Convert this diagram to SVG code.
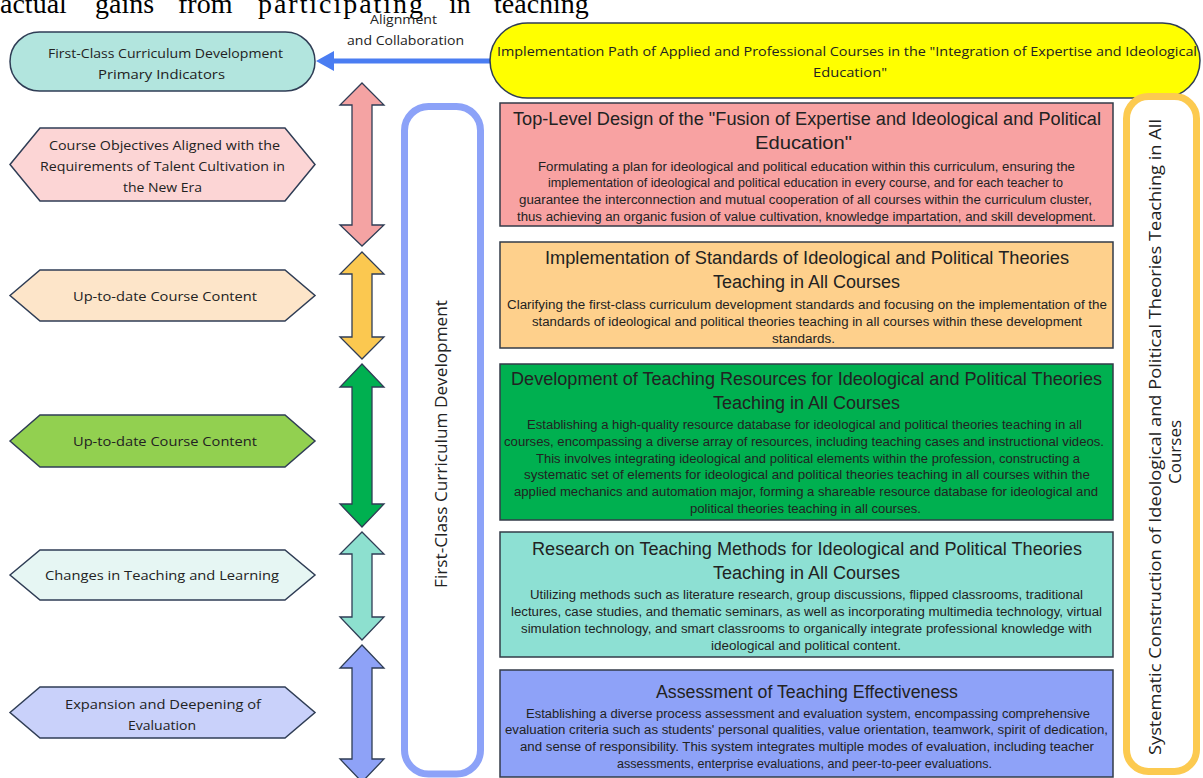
<svg xmlns="http://www.w3.org/2000/svg" width="1203" height="778" viewBox="0 0 1203 778">
<style>
.hdr{font-family:"Liberation Serif",serif;font-size:28px;fill:#000}
.lt{font-family:"Open Sans","Noto Sans",sans-serif;font-size:13px;fill:#222;text-anchor:middle}
.vt{font-family:"Open Sans","Noto Sans",sans-serif;font-size:17px;fill:#222;text-anchor:middle}
.tt{font-family:"Liberation Sans",Arial,sans-serif;font-size:18px;fill:#222;text-anchor:middle}
.bt{font-family:"Liberation Sans",Arial,sans-serif;font-size:12.5px;fill:#222;text-anchor:middle}
.nd{stroke:#2f3d55;stroke-width:1.5}
.bx{stroke:#333b48;stroke-width:1.5}
.dbl{stroke:#2f3d55;stroke-width:1.3;stroke-linejoin:miter}
</style>
<defs>
<path id="dar" d="M0,0 L22,22 L10,22 L10,0 Z"/>
</defs>
<rect width="1203" height="778" fill="#fff"/>

<g id="header-text">
<text class="hdr" x="0" y="13">actual</text>
<text class="hdr" x="95" y="13">gains</text>
<text class="hdr" x="178" y="13">from</text>
<text class="hdr" x="258" y="13" textLength="165" lengthAdjust="spacing">participating</text>
<text class="hdr" x="449" y="13">in</text>
<text class="hdr" x="494" y="13">teaching</text>
</g>

<g id="connectors">
<line x1="492" y1="61" x2="330" y2="61" stroke="#4a7df2" stroke-width="5"/>
<polygon points="316,61 334,51 334,71" fill="#4a7df2"/>
<text class="lt" x="403.5" y="23.5" textLength="67" lengthAdjust="spacingAndGlyphs">Alignment</text>
<text class="lt" x="405.5" y="44.5" textLength="117" lengthAdjust="spacingAndGlyphs">and Collaboration</text>
</g>

<g id="primary-indicators">
<rect x="10" y="32" width="305" height="59" rx="29.5" fill="#b2e5de" class="nd"/>
<text class="lt" x="165.5" y="57.5" textLength="235" lengthAdjust="spacingAndGlyphs">First-Class Curriculum Development</text>
<text class="lt" x="161.5" y="78.5" textLength="127" lengthAdjust="spacingAndGlyphs">Primary Indicators</text>
</g>

<g id="implementation-path">
<rect x="490" y="23" width="710" height="75" rx="37.5" fill="#ffff00" class="nd"/>
<text class="lt" x="847" y="55.5" textLength="700" lengthAdjust="spacingAndGlyphs">Implementation Path of Applied and Professional Courses in the "Integration of Expertise and Ideological</text>
<text class="lt" x="850" y="76.5" textLength="74" lengthAdjust="spacingAndGlyphs">Education"</text>
</g>

<g id="hex-objectives">
<polygon points="10,164.5 40,128 285,128 315,164.5 285,201 40,201" fill="#fcd5d5" class="nd"/>
<text class="lt" x="164.5" y="149.5" textLength="231" lengthAdjust="spacingAndGlyphs">Course Objectives Aligned with the</text>
<text class="lt" x="162.5" y="170.5" textLength="245" lengthAdjust="spacingAndGlyphs">Requirements of Talent Cultivation in</text>
<text class="lt" x="162.5" y="191.5" textLength="79" lengthAdjust="spacingAndGlyphs">the New Era</text>
</g>

<g id="hex-content-1">
<polygon points="10,295.5 40,270 285,270 315,295.5 285,321 40,321" fill="#fde5c9" class="nd"/>
<text class="lt" x="165" y="301" textLength="184" lengthAdjust="spacingAndGlyphs">Up-to-date Course Content</text>
</g>

<g id="hex-content-2">
<polygon points="10,441 40,415 285,415 315,441 285,467 40,467" fill="#92d050" class="nd"/>
<text class="lt" x="165" y="446" textLength="184" lengthAdjust="spacingAndGlyphs">Up-to-date Course Content</text>
</g>

<g id="hex-changes">
<polygon points="10,575 40,550 285,550 315,575 285,600 40,600" fill="#e6f6f3" class="nd"/>
<text class="lt" x="162" y="580" textLength="234" lengthAdjust="spacingAndGlyphs">Changes in Teaching and Learning</text>
</g>

<g id="hex-evaluation">
<polygon points="10,712.5 40,687 285,687 315,712.5 285,738 40,738" fill="#c9d1fa" class="nd"/>
<text class="lt" x="163" y="708.5" textLength="196" lengthAdjust="spacingAndGlyphs">Expansion and Deepening of</text>
<text class="lt" x="162" y="729.5" textLength="68" lengthAdjust="spacingAndGlyphs">Evaluation</text>
</g>

<g id="double-arrows">
<path class="dbl" fill="#f4a3a3" d="M362,83 L384,105 L372,105 L372,225 L384,225 L362,246 L340,225 L352,225 L352,105 L340,105 Z"/>
<path class="dbl" fill="#fbc850" d="M362,252 L384,274 L372,274 L372,337 L384,337 L362,359 L340,337 L352,337 L352,274 L340,274 Z"/>
<path class="dbl" fill="#00b050" d="M362,364 L384,387 L372,387 L372,504 L384,504 L362,527 L340,504 L352,504 L352,387 L340,387 Z"/>
<path class="dbl" fill="#8de0cf" d="M362,532 L384,554 L372,554 L372,617 L384,617 L362,640 L340,617 L352,617 L352,554 L340,554 Z"/>
<path class="dbl" fill="#8ea2f7" d="M362,645 L384,668 L372,668 L372,759 L384,759 L362,782 L340,759 L352,759 L352,668 L340,668 Z"/>
</g>

<g id="first-class-frame">
<rect x="404.5" y="106.5" width="76" height="667.5" rx="24" fill="#fff" stroke="#8ca2f8" stroke-width="7"/>
<text class="vt" transform="translate(447,444) rotate(-90)" textLength="288" lengthAdjust="spacingAndGlyphs">First-Class Curriculum Development</text>
</g>

<g id="systematic-frame">
<rect x="1126.5" y="96.5" width="70" height="675" rx="22" fill="#fff" stroke="#fcca50" stroke-width="7"/>
<text class="vt" transform="translate(1161,437) rotate(-90)" textLength="636" lengthAdjust="spacingAndGlyphs">Systematic Construction of Ideological and Political Theories Teaching in All</text>
<text class="vt" transform="translate(1181,452) rotate(-90)">Courses</text>
</g>

<g id="box-top-level">
<rect x="500" y="103" width="613" height="123" fill="#f8a2a2" class="bx"/>
<text class="tt" x="807" y="125" textLength="588" lengthAdjust="spacingAndGlyphs">Top-Level Design of the "Fusion of Expertise and Ideological and Political</text>
<text class="tt" x="803.5" y="149" textLength="97" lengthAdjust="spacingAndGlyphs">Education"</text>
<text class="bt" x="806.5" y="170.5" textLength="537" lengthAdjust="spacingAndGlyphs">Formulating a plan for ideological and political education within this curriculum, ensuring the</text>
<text class="bt" x="805.5" y="187" textLength="515" lengthAdjust="spacingAndGlyphs">implementation of ideological and political education in every course, and for each teacher to</text>
<text class="bt" x="805.5" y="203.5" textLength="573" lengthAdjust="spacingAndGlyphs">guarantee the interconnection and mutual cooperation of all courses within the curriculum cluster,</text>
<text class="bt" x="806.5" y="220.5" textLength="579" lengthAdjust="spacingAndGlyphs">thus achieving an organic fusion of value cultivation, knowledge impartation, and skill development.</text>
</g>

<g id="box-standards">
<rect x="500" y="242" width="613" height="106" fill="#fed08c" class="bx"/>
<text class="tt" x="807" y="264" textLength="524" lengthAdjust="spacingAndGlyphs">Implementation of Standards of Ideological and Political Theories</text>
<text class="tt" x="806.5" y="288" textLength="187" lengthAdjust="spacingAndGlyphs">Teaching in All Courses</text>
<text class="bt" x="807" y="308.5" textLength="600" lengthAdjust="spacingAndGlyphs">Clarifying the first-class curriculum development standards and focusing on the implementation of the</text>
<text class="bt" x="807" y="325.5" textLength="550" lengthAdjust="spacingAndGlyphs">standards of ideological and political theories teaching in all courses within these development</text>
<text class="bt" x="803.5" y="342.5" textLength="63" lengthAdjust="spacingAndGlyphs">standards.</text>
</g>

<g id="box-resources">
<rect x="500" y="364" width="613" height="156" fill="#00b050" class="bx"/>
<text class="tt" x="806.5" y="385" textLength="591" lengthAdjust="spacingAndGlyphs">Development of Teaching Resources for Ideological and Political Theories</text>
<text class="tt" x="806.5" y="409" textLength="187" lengthAdjust="spacingAndGlyphs">Teaching in All Courses</text>
<text class="bt" x="804.5" y="428.5" textLength="555" lengthAdjust="spacingAndGlyphs">Establishing a high-quality resource database for ideological and political theories teaching in all</text>
<text class="bt" x="804" y="445.5" textLength="600" lengthAdjust="spacingAndGlyphs">courses, encompassing a diverse array of resources, including teaching cases and instructional videos.</text>
<text class="bt" x="808" y="462.5" textLength="544" lengthAdjust="spacingAndGlyphs">This involves integrating ideological and political elements within the profession, constructing a</text>
<text class="bt" x="807" y="479" textLength="566" lengthAdjust="spacingAndGlyphs">systematic set of elements for ideological and political theories teaching in all courses within the</text>
<text class="bt" x="806" y="495.5" textLength="584" lengthAdjust="spacingAndGlyphs">applied mechanics and automation major, forming a shareable resource database for ideological and</text>
<text class="bt" x="805.5" y="512.5" textLength="231" lengthAdjust="spacingAndGlyphs">political theories teaching in all courses.</text>
</g>

<g id="box-methods">
<rect x="500" y="532" width="613" height="125" fill="#8de0d3" class="bx"/>
<text class="tt" x="807" y="555" textLength="550" lengthAdjust="spacingAndGlyphs">Research on Teaching Methods for Ideological and Political Theories</text>
<text class="tt" x="806.5" y="579" textLength="187" lengthAdjust="spacingAndGlyphs">Teaching in All Courses</text>
<text class="bt" x="806.5" y="598.5" textLength="553" lengthAdjust="spacingAndGlyphs">Utilizing methods such as literature research, group discussions, flipped classrooms, traditional</text>
<text class="bt" x="806.5" y="615.5" textLength="591" lengthAdjust="spacingAndGlyphs">lectures, case studies, and thematic seminars, as well as incorporating multimedia technology, virtual</text>
<text class="bt" x="806.5" y="632.5" textLength="571" lengthAdjust="spacingAndGlyphs">simulation technology, and smart classrooms to organically integrate professional knowledge with</text>
<text class="bt" x="806" y="649.5" textLength="190" lengthAdjust="spacingAndGlyphs">ideological and political content.</text>
</g>

<g id="box-assessment">
<rect x="500" y="670" width="613" height="107" fill="#8ea2f8" class="bx"/>
<text class="tt" x="807" y="698" textLength="302" lengthAdjust="spacingAndGlyphs">Assessment of Teaching Effectiveness</text>
<text class="bt" x="808" y="717.5" textLength="564" lengthAdjust="spacingAndGlyphs">Establishing a diverse process assessment and evaluation system, encompassing comprehensive</text>
<text class="bt" x="806.5" y="734" textLength="603" lengthAdjust="spacingAndGlyphs">evaluation criteria such as students' personal qualities, value orientation, teamwork, spirit of dedication,</text>
<text class="bt" x="807" y="750.5" textLength="574" lengthAdjust="spacingAndGlyphs">and sense of responsibility. This system integrates multiple modes of evaluation, including teacher</text>
<text class="bt" x="804.5" y="767.5" textLength="375" lengthAdjust="spacingAndGlyphs">assessments, enterprise evaluations, and peer-to-peer evaluations.</text>
</g>
</svg>
